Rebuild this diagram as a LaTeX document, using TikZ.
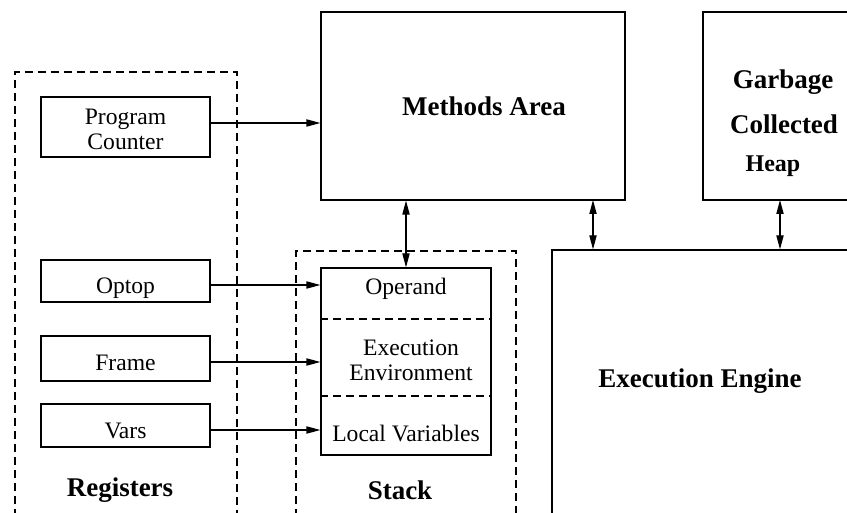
\documentclass[tikz,border=0pt]{standalone}
\usepackage{fontspec}
\setmainfont{Liberation Serif}
\usetikzlibrary{arrows.meta}
\begin{document}
\begin{tikzpicture}[x=0.5pt,y=-0.5pt, line width=0.6pt,
  box/.style={draw, rectangle, inner sep=0pt},
  txt/.style={inner sep=0pt, font=\fontsize{11.8}{12.5}\selectfont, align=center},
  grp/.style={draw, dash pattern=on 4pt off 2.5pt},
  lbl/.style={inner sep=0pt, font=\fontsize{13.5}{14}\selectfont\bfseries},
  arr/.style={-{Triangle[length=7pt,width=3.6pt]}},
  darr/.style={{Triangle[length=7pt,width=3.6pt]}-{Triangle[length=7pt,width=3.6pt]}}]
\clip (0,0) rectangle (847,513);
% groups
\draw[grp] (15,530) -- (15,72) -- (237,72) -- (237,530);
\draw[grp] (296,530) -- (296,251) -- (516,251) -- (516,530);
% registers
\node[box, minimum width=84.5pt, minimum height=30pt] (pc) at (125.5,127) {};
\node[txt] (pctxt) at (125.5,129.5) {Program\\Counter};
\node[box, minimum width=84.5pt, minimum height=21pt] (optop) at (125.5,281) {};
\node[txt] (optoptxt) at (125.5,288.5) {Optop};
\node[box, minimum width=84.5pt, minimum height=22.5pt] (frame) at (125.5,358.5) {};
\node[txt] (frametxt) at (125.5,363) {Frame};
\node[box, minimum width=84.5pt, minimum height=21.5pt] (vars) at (125.5,425.5) {};
\node[txt] (varstxt) at (125.5,430.5) {Vars};
\node[lbl] (reglbl) at (120,490) {Registers};
% methods area, heap, engine
\node[box, minimum width=152pt, minimum height=94pt] (methods) at (473,106) {};
\node[lbl] (methodslbl) at (484,106) {Methods Area};
\node[box, minimum width=74.5pt, minimum height=94pt] (heap) at (777.5,106) {};
\node[lbl] (garb) at (783,82) {Garbage};
\node[lbl] (coll) at (784,124) {Collected};
\node[inner sep=0pt, font=\fontsize{12}{13}\selectfont\bfseries] (heaplbl) at (773,166) {Heap};
\node[box, minimum width=154pt, minimum height=140pt] (engine) at (706,390) {};
\node[lbl] (enginelbl) at (700,381) {Execution Engine};
% stack
\node[box, minimum width=85pt, minimum height=93.5pt] (stack) at (406,361.5) {};
\draw[dash pattern=on 4pt off 2.5pt] (stack.west |- {(0,319)}) -- (stack.east |- {(0,319)});
\draw[dash pattern=on 4pt off 2.5pt] (stack.west |- {(0,396)}) -- (stack.east |- {(0,396)});
\node[txt] (operand) at (406,289) {Operand};
\node[txt] (execenv) at (411,360) {Execution\\Environment};
\node[txt] (localvars) at (406,433) {Local Variables};
\node[lbl] (stacklbl) at (400,490) {Stack};
% connectors
\draw[arr] ([yshift=2pt]pc.east) -- ([yshift=2pt]pc.east -| methods.west);
\draw[arr] ([yshift=-2pt]optop.east) -- ([yshift=-2pt]optop.east -| stack.west);
\draw[arr] ([yshift=-1.75pt]frame.east) -- ([yshift=-1.75pt]frame.east -| stack.west);
\draw[arr] ([yshift=-2.25pt]vars.east) -- ([yshift=-2.25pt]vars.east -| stack.west);
\draw[darr] (stack.north |- methods.south) -- (stack.north);
\coordinate (me) at (593,200);
\draw[darr] (me) -- (me |- engine.north);
\coordinate (he) at (780,200);
\draw[darr] (he) -- (he |- engine.north);
\end{tikzpicture}
\end{document}
